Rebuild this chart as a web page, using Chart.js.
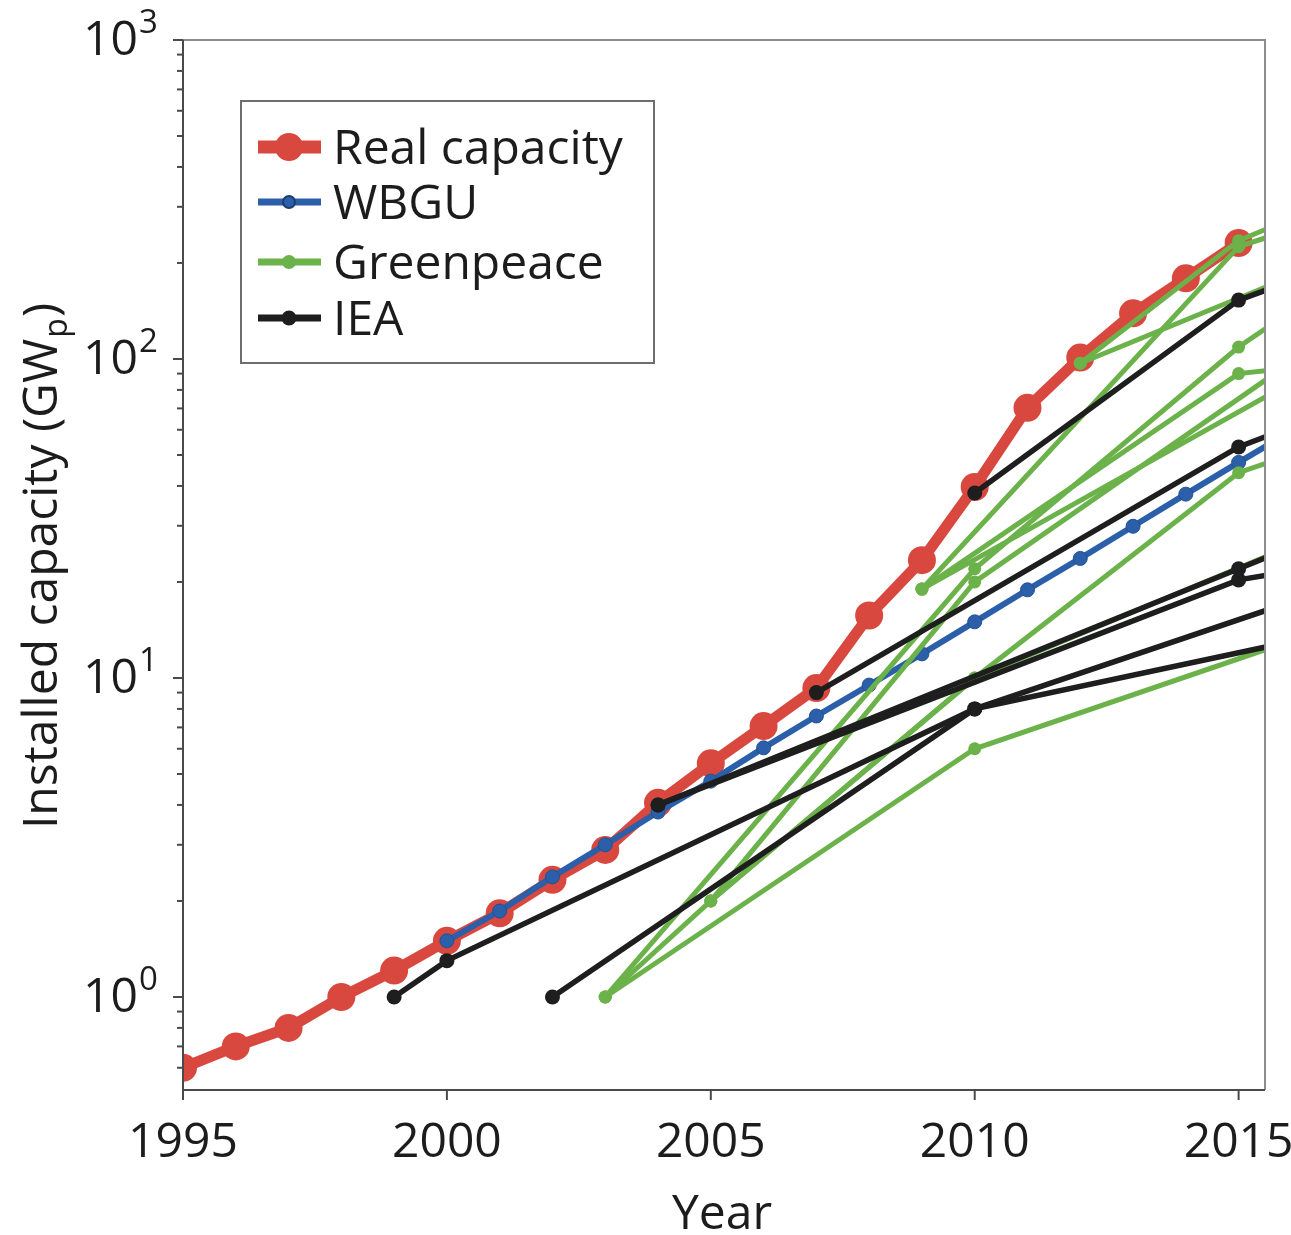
<!DOCTYPE html>
<html>
<head>
<meta charset="utf-8">
<script src="https://cdn.jsdelivr.net/npm/chart.js@4.4.0/dist/chart.umd.min.js"></script>
<style>
  html, body { margin: 0; padding: 0; background: #fff; }
  canvas { display: block; }
</style>
</head>
<body>
<canvas id="grafico" width="1291" height="1235"></canvas>
<script>
/* --- Dados --- */
const anosReal = [1995, 1996, 1997, 1998, 1999, 2000, 2001, 2002, 2003, 2004, 2005,
  2006, 2007, 2008, 2009, 2010, 2011, 2012, 2013, 2014, 2015];
const capacidadeReal = [0.6, 0.7, 0.8, 1.0, 1.21, 1.5, 1.83, 2.33, 2.89, 4.06, 5.4,
  7.07, 9.3, 15.7, 23.4, 39.7, 70.3, 101, 139, 179, 231];

const anosWbgu = [2000, 2001, 2002, 2003, 2004, 2005, 2006, 2007, 2008,
  2009, 2010, 2011, 2012, 2013, 2014, 2015, 2016];
const valoresWbgu = [1.5, 1.86, 2.38, 3.0, 3.8, 4.75, 6.04, 7.6, 9.5,
  11.9, 15.0, 18.9, 23.7, 29.9, 37.7, 47.4, 59.5];

// cenários Greenpeace (cada linha: anos e valores)
const anosGreenpeace = [
  [2003, 2010, 2020],
  [2003, 2010, 2015, 2020],
  [2005, 2010, 2020],
  [2003, 2005, 2010, 2020],
  [2005, 2010, 2015, 2020],
  [2009, 2015, 2020],
  [2009, 2015, 2020],
  [2009, 2020],
  [2012, 2015, 2020],
  [2012, 2020]
];
const valoresGreenpeace = [
  [1.0, 6.0, 22],
  [1.0, 22, 109, 400],
  [2.0, 20, 282],
  [1.0, 2.0, 10, 49],
  [2.0, 10, 44, 85],
  [19, 225, 420],
  [19, 90, 110],
  [19, 198],
  [97, 235, 520],
  [97, 339]
];

// cenários IEA
const anosIea = [
  [1999, 2000, 2010, 2020],
  [2002, 2010, 2020],
  [2004, 2015, 2020],
  [2004, 2015, 2020],
  [2007, 2015, 2020],
  [2010, 2015, 2020]
];
const valoresIea = [
  [1.0, 1.3, 8.0, 29],
  [1.0, 8.0, 18],
  [4.0, 22, 48],
  [4.0, 20.3, 28],
  [9.0, 53, 110],
  [38, 153, 306]
];

const anosTicks = [1995, 2000, 2005, 2010, 2015];
const valoresTicksY = [1, 10, 100, 1000];
const expoentesY = ["0", "1", "2", "3"];
const nomesLegenda = ["Real capacity", "WBGU", "Greenpeace", "IEA"];

const cores = { real: "#d9483f", wbgu: "#2b5fa9", gp: "#6cb24a", iea: "#1e1e1e" };
const fonte = "'Open Sans', 'Noto Sans', sans-serif";
const corTexto = "#1c1c1c";

function pontos(anos, valores) {
  return anos.map((a, i) => ({ x: a, y: valores[i] }));
}

/* --- Montagem dos datasets --- */
const datasets = [];

anosIea.forEach((anos, i) => {
  datasets.push({
    label: "IEA", data: pontos(anos, valoresIea[i]),
    borderColor: cores.iea, backgroundColor: cores.iea,
    borderWidth: 5.5, pointRadius: 7.5, pointBorderWidth: 0, order: 1
  });
});

anosGreenpeace.forEach((anos, i) => {
  datasets.push({
    label: "Greenpeace", data: pontos(anos, valoresGreenpeace[i]),
    borderColor: cores.gp, backgroundColor: cores.gp,
    borderWidth: 5, pointRadius: 6.5, pointBorderWidth: 0, order: 2
  });
});

datasets.push({
  label: "WBGU", data: pontos(anosWbgu, valoresWbgu),
  borderColor: cores.wbgu, backgroundColor: cores.wbgu,
  borderWidth: 6, pointRadius: 7, pointBorderWidth: 1, pointBorderColor: "#23508f", order: 3
});

datasets.push({
  label: "Real capacity", data: pontos(anosReal, capacidadeReal),
  borderColor: cores.real, backgroundColor: cores.real,
  borderWidth: 11, pointRadius: 14, pointBorderWidth: 0, order: 4
});

datasets.forEach(d => { d.clip = 0; d.tension = 0; d.fill = false; });

/* --- Eixos, rótulos e legenda desenhados à mão --- */
const desenhoExtra = {
  id: "desenhoExtra",
  afterDatasetsDraw(chart) {
    const { ctx, chartArea: area } = chart;
    const x = chart.scales.x;
    const y = chart.scales.y;
    ctx.save();

    // moldura
    ctx.lineWidth = 2;
    ctx.strokeStyle = "#8c8c8c";
    ctx.beginPath();
    ctx.moveTo(area.left, area.top);
    ctx.lineTo(area.right, area.top);
    ctx.lineTo(area.right, area.bottom);
    ctx.stroke();

    ctx.strokeStyle = "#4a4a4a";
    ctx.beginPath();
    ctx.moveTo(area.left, area.top);
    ctx.lineTo(area.left, area.bottom);
    ctx.lineTo(area.right, area.bottom);
    ctx.stroke();

    // ticks do eixo x
    anosTicks.forEach(a => {
      const px = x.getPixelForValue(a);
      ctx.beginPath();
      ctx.moveTo(px, area.bottom);
      ctx.lineTo(px, area.bottom + 10);
      ctx.stroke();
    });

    // ticks do eixo y (log)
    for (let d = -1; d <= 3; d++) {
      for (let m = 1; m < 10; m++) {
        const v = m * Math.pow(10, d);
        if (v < y.min || v > y.max * 1.0001) continue;
        const py = y.getPixelForValue(v);
        ctx.beginPath();
        ctx.moveTo(area.left, py);
        ctx.lineTo(area.left - (m === 1 ? 10 : 6), py);
        ctx.stroke();
      }
    }

    // rótulos x
    ctx.fillStyle = corTexto;
    ctx.font = "48px " + fonte;
    ctx.textAlign = "center";
    ctx.textBaseline = "alphabetic";
    anosTicks.forEach(a => {
      ctx.fillText(String(a), x.getPixelForValue(a), 1157);
    });

    // rótulos y: 10 com expoente
    valoresTicksY.forEach((v, i) => {
      const py = y.getPixelForValue(v);
      ctx.font = "48px " + fonte;
      ctx.textAlign = "right";
      ctx.fillText("10", 138, py + 15);
      ctx.font = "33px " + fonte;
      ctx.textAlign = "left";
      ctx.fillText(expoentesY[i], 139, py - 7);
    });

    // título x
    ctx.font = "48px " + fonte;
    ctx.textAlign = "center";
    ctx.fillText("Year", 722, 1229);

    // título y com subscrito
    ctx.save();
    ctx.translate(57, 567);
    ctx.rotate(-Math.PI / 2);
    const parte1 = "Installed capacity (GW";
    const parte2 = "p";
    const parte3 = ")";
    ctx.font = "48px " + fonte;
    const w1 = ctx.measureText(parte1).width;
    const w3 = ctx.measureText(parte3).width;
    ctx.font = "32px " + fonte;
    const w2 = ctx.measureText(parte2).width;
    let inicio = -(w1 + w2 + w3) / 2;
    ctx.textAlign = "left";
    ctx.font = "48px " + fonte;
    ctx.fillText(parte1, inicio, 0);
    ctx.font = "32px " + fonte;
    ctx.fillText(parte2, inicio + w1 + 1, 10);
    ctx.font = "48px " + fonte;
    ctx.fillText(parte3, inicio + w1 + w2 + 2, 0);
    ctx.restore();

    // legenda
    ctx.fillStyle = "#fff";
    ctx.fillRect(241, 101, 413, 262);
    ctx.strokeStyle = "#6e6e6e";
    ctx.lineWidth = 2;
    ctx.strokeRect(241, 101, 413, 262);

    const estilos = [
      { cor: cores.real, lw: 13, r: 14, borda: null },
      { cor: cores.wbgu, lw: 7, r: 6, borda: "#1d3d70" },
      { cor: cores.gp, lw: 7, r: 7, borda: null },
      { cor: cores.iea, lw: 7, r: 7.5, borda: null }
    ];
    const centrosY = [147, 202, 262, 318];
    nomesLegenda.forEach((nome, i) => {
      const e = estilos[i];
      const cy = centrosY[i];
      ctx.strokeStyle = e.cor;
      ctx.lineWidth = e.lw;
      ctx.lineCap = "butt";
      ctx.beginPath();
      ctx.moveTo(258, cy);
      ctx.lineTo(321, cy);
      ctx.stroke();
      ctx.fillStyle = e.cor;
      ctx.beginPath();
      ctx.arc(289, cy, e.r, 0, Math.PI * 2);
      ctx.fill();
      if (e.borda) {
        ctx.strokeStyle = e.borda;
        ctx.lineWidth = 2;
        ctx.stroke();
      }
      ctx.fillStyle = corTexto;
      ctx.font = "48px " + fonte;
      ctx.textAlign = "left";
      ctx.fillText(nome, 333, cy + 17);
    });

    ctx.restore();
  }
};

/* --- Gráfico --- */
const ctx = document.getElementById("grafico").getContext("2d");
new Chart(ctx, {
  type: "line",
  data: { datasets },
  options: {
    responsive: false,
    animation: false,
    devicePixelRatio: 1,
    layout: { padding: { left: 183, right: 26, top: 40, bottom: 145 } },
    plugins: { legend: { display: false }, tooltip: { enabled: false } },
    scales: {
      x: { type: "linear", min: 1995, max: 2015.5, display: false },
      y: { type: "logarithmic", min: 0.511, max: 1000, display: false }
    }
  },
  plugins: [desenhoExtra]
});
</script>
</body>
</html>
